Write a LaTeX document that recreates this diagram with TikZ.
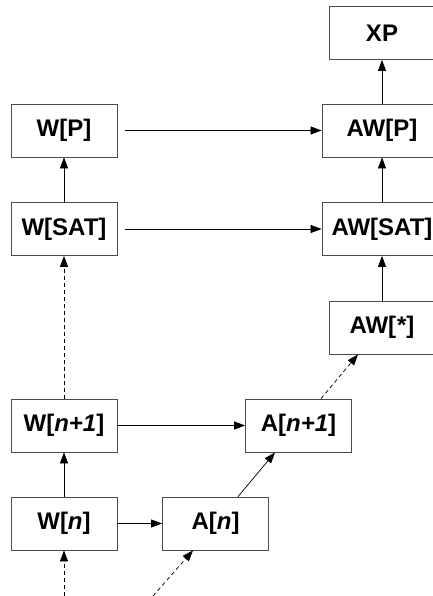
\documentclass[tikz,border=0pt]{standalone}
\usepackage{fontspec}
\setmainfont{Liberation Sans}
\usetikzlibrary{arrows.meta}
\begin{document}
\begin{tikzpicture}[x=1pt,y=1pt,
    box/.style={draw=black!70,line width=0.8pt,minimum width=106pt,minimum height=53pt,inner sep=0pt,
        font=\fontsize{24}{28}\selectfont\bfseries},
    widebox/.style={box,minimum width=120pt},
    arr/.style={-{Triangle[length=11pt,width=8pt]},line width=0.7pt},
    darr/.style={arr,dash pattern=on 4pt off 3pt}]
    \useasboundingbox (0,0) rectangle (432,596);

    % left column: W hierarchy
    \node[box] (wn) at (64,72.5) {W[\textit{n}]};
    \node[box] (wn1) at (64,170.5) {W[\textit{n+1}]};
    \node[box] (wsat) at (64,367) {W[SAT]};
    \node[box] (wp) at (64,465.5) {W[P]};

    % A hierarchy in between
    \node[box] (an) at (215.5,72.5) {A[\textit{n}]};
    \node[box] (an1) at (298.5,170.5) {A[\textit{n+1}]};

    % right column: AW hierarchy and XP
    \node[box] (awstar) at (382,268.5) {AW[\textit{*}]};
    \node[widebox] (awsat) at (382,367) {AW[SAT]};
    \node[widebox] (awp) at (382,465.5) {AW[P]};
    \node[box] (xp) at (382,563) {XP};

    \coordinate (wlow) at (64,0);
    \coordinate (alow) at (153,0);

    % inclusions
    \draw[darr] (wlow) -- (wn);
    \draw[darr] (alow) -- ([xshift=-22.5pt]an.south);
    \draw[arr] (wn) -- (wn1);
    \draw[arr] (wn) -- (an);
    \draw[arr] (wn1) -- (an1);
    \draw[arr] ([xshift=22.5pt]an.north) -- ([xshift=-23.5pt]an1.south);
    \draw[darr] ([xshift=22.5pt]an1.north) -- ([xshift=-24pt]awstar.south);
    \draw[darr] (wn1) -- (wsat);
    \draw[arr] (wsat) -- (wp);
    \draw[arr,shorten <=8pt] (wsat) -- (awsat);
    \draw[arr,shorten <=8pt] (wp) -- (awp);
    \draw[arr] (awstar) -- (awsat);
    \draw[arr] (awsat) -- (awp);
    \draw[arr] (awp) -- (xp);
\end{tikzpicture}
\end{document}
